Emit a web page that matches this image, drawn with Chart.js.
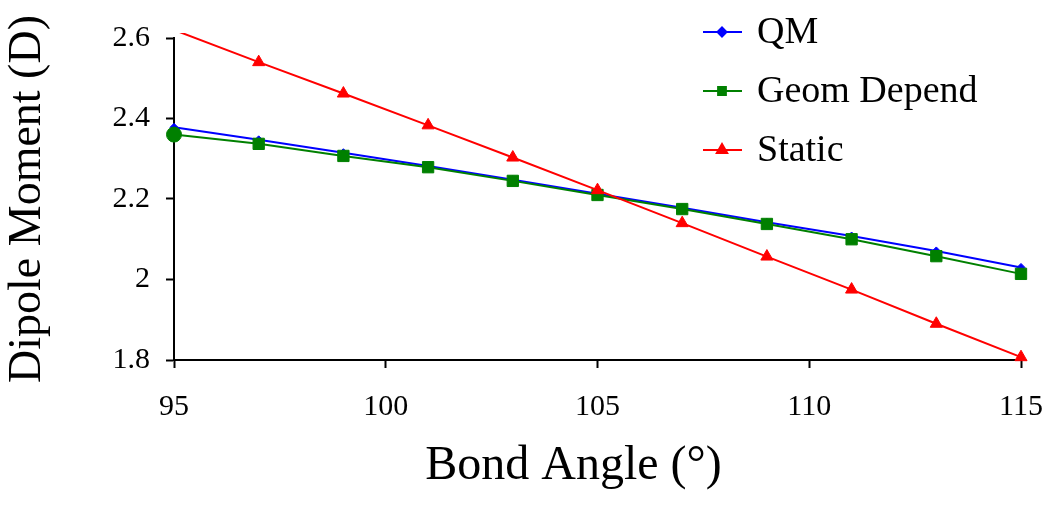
<!DOCTYPE html>
<html>
<head>
<meta charset="utf-8">
<title>Dipole Moment vs Bond Angle</title>
<script src="https://cdn.jsdelivr.net/npm/chart.js@4/dist/chart.umd.min.js"></script>
<style>
  html, body { margin: 0; padding: 0; background: #fff; }
  #wrap { width: 1050px; height: 512px; }
</style>
</head>
<body>
<div id="wrap"><canvas id="graphique" width="1050" height="512"></canvas></div>
<script>
// Données
const bondAngles = [95, 97, 99, 101, 103, 105, 107, 109, 111, 113, 115];
const qm = [2.378, 2.347, 2.315, 2.282, 2.248, 2.213, 2.178, 2.142, 2.108, 2.071, 2.030];
const geomDepend = [2.360, 2.337, 2.307, 2.279, 2.245, 2.210, 2.175, 2.138, 2.100, 2.058, 2.014];
const staticVals = [2.620, 2.540, 2.462, 2.383, 2.303, 2.222, 2.140, 2.057, 1.975, 1.890, 1.807];
const seriesNames = ["QM", "Geom Depend", "Static"];
const xTicks = [95, 100, 105, 110, 115];
const yTicks = [1.8, 2.0, 2.2, 2.4, 2.6];

const police = "'Liberation Serif', 'Times New Roman', serif";

function points(vals) {
  return bondAngles.map((a, i) => ({ x: a, y: vals[i] }));
}

// Légende dessinée dans la zone du graphique, en haut à droite
const legendeInterne = {
  id: "legendeInterne",
  afterDraw(chart) {
    const ctx = chart.ctx;
    chart.data.datasets.forEach((ds, i) => {
      const y = 32 + i * 59;
      ctx.save();
      ctx.strokeStyle = ds.borderColor;
      ctx.lineWidth = 2;
      ctx.beginPath();
      ctx.moveTo(703, y);
      ctx.lineTo(742, y);
      ctx.stroke();
      ctx.fillStyle = ds.borderColor;
      const style = ds.legendStyle;
      Chart.helpers.drawPoint(ctx, { pointStyle: style.pointStyle, radius: style.radius, rotation: 0, borderWidth: 1 }, 722, y);
      ctx.fillStyle = "#000";
      ctx.font = "38px " + police;
      ctx.textAlign = "left";
      ctx.textBaseline = "middle";
      ctx.fillText(ds.label, 757, y + 1);
      ctx.restore();
    });
  }
};

const clipZone = { left: 12, right: 12, top: 5, bottom: 12 };

new Chart(document.getElementById("graphique"), {
  type: "line",
  data: {
    datasets: [
      {
        label: seriesNames[0],
        data: points(qm),
        borderColor: "#0000ff",
        backgroundColor: "#0000ff",
        borderWidth: 2,
        pointStyle: "rectRot",
        pointRadius: 4,
        pointBorderWidth: 1,
        clip: clipZone,
        order: 2,
        legendStyle: { pointStyle: "rectRot", radius: 4.5 }
      },
      {
        label: seriesNames[1],
        data: points(geomDepend),
        borderColor: "#008000",
        backgroundColor: "#008000",
        borderWidth: 2,
        pointStyle: ["circle", "rect", "rect", "rect", "rect", "rect", "rect", "rect", "rect", "rect", "rect"],
        pointRadius: [7.5, 8, 8, 8, 8, 8, 8, 8, 8, 8, 8],
        pointBorderWidth: 1,
        clip: clipZone,
        order: 1,
        legendStyle: { pointStyle: "rect", radius: 5.5 }
      },
      {
        label: seriesNames[2],
        data: points(staticVals),
        borderColor: "#ff0000",
        backgroundColor: "#ff0000",
        borderWidth: 2,
        pointStyle: "triangle",
        pointRadius: [0, 7, 7, 7, 7, 7, 7, 7, 7, 7, 7],
        pointBorderWidth: 1,
        clip: clipZone,
        order: 0,
        legendStyle: { pointStyle: "triangle", radius: 6 }
      }
    ]
  },
  options: {
    responsive: false,
    animation: false,
    layout: { padding: { top: 38, right: 29, bottom: 0, left: 0 } },
    plugins: {
      legend: { display: false },
      tooltip: { enabled: false }
    },
    elements: { line: { tension: 0 } },
    scales: {
      x: {
        type: "linear",
        min: 95,
        max: 115,
        afterFit(scale) {
          scale.height = 152;
          scale.paddingRight = 0;
          scale.paddingLeft = 0;
        },
        afterBuildTicks(scale) { scale.ticks = xTicks.map(v => ({ value: v })); },
        grid: { drawOnChartArea: false, drawTicks: true, tickLength: 8, tickColor: "#000", tickWidth: 2 },
        border: { color: "#000", width: 2 },
        ticks: {
          color: "#000",
          padding: 21,
          maxRotation: 0,
          font: { family: police, size: 30 }
        },
        title: {
          display: true,
          text: "Bond Angle (°)    ",
          color: "#000",
          padding: { top: 0, bottom: 17 },
          font: { family: police, size: 48 }
        }
      },
      y: {
        type: "linear",
        min: 1.8,
        max: 2.6,
        afterFit(scale) {
          scale.width = 174;
          scale.paddingTop = 0;
          scale.paddingBottom = 0;
        },
        afterBuildTicks(scale) { scale.ticks = yTicks.map(v => ({ value: v })); },
        grid: { drawOnChartArea: false, drawTicks: true, tickLength: 8, tickColor: "#000", tickWidth: 2 },
        border: { color: "#000", width: 2 },
        ticks: {
          color: "#000",
          padding: 16,
          font: { family: police, size: 30 },
          callback: v => String(Number(v.toFixed(1)))
        },
        title: {
          display: true,
          text: "Dipole Moment (D)",
          color: "#000",
          padding: { top: 0, bottom: 0 },
          font: { family: police, size: 46 }
        }
      }
    }
  },
  plugins: [legendeInterne]
});
</script>
</body>
</html>
